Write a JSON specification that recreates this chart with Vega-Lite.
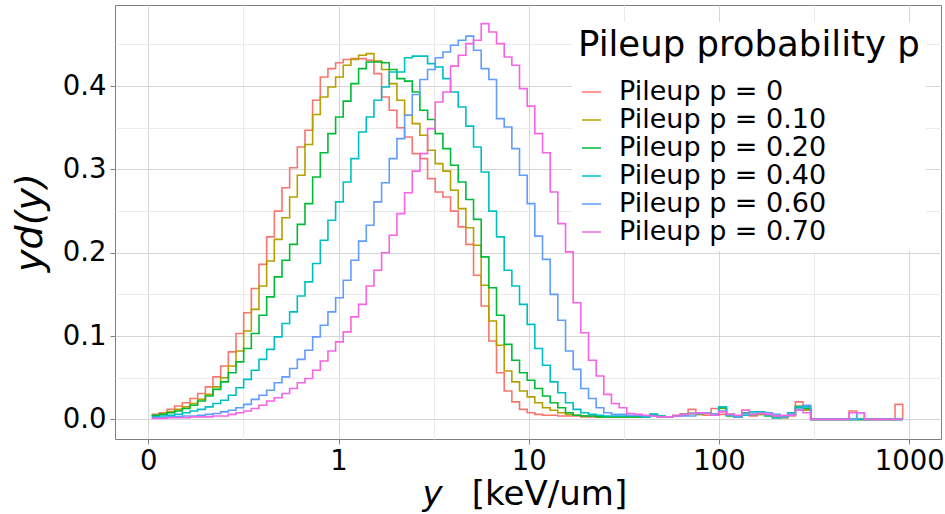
{
"$schema": "https://vega.github.io/schema/vega-lite/v6.json",
"width": 826, "height": 434,
"autosize": {"type": "none"},
"padding": {"left": 115, "top": 5, "right": 4, "bottom": 75},
"background": "white",
"config": {"font": "DejaVu Sans", "view": {"stroke": "#7f7f7f", "strokeWidth": 1}},
"data": {"values": [
{"p":"0","y":0.1041,"d":0.006},{"p":"0","y":0.1143,"d":0.008},{"p":"0","y":0.1254,"d":0.012},{"p":"0","y":0.1376,"d":0.016},{"p":"0","y":0.1510,"d":0.020},{"p":"0","y":0.1656,"d":0.025},{"p":"0","y":0.1817,"d":0.031},{"p":"0","y":0.1994,"d":0.039},{"p":"0","y":0.2187,"d":0.051},{"p":"0","y":0.2400,"d":0.064},
{"p":"0","y":0.2633,"d":0.081},{"p":"0","y":0.2889,"d":0.103},{"p":"0","y":0.3170,"d":0.128},{"p":"0","y":0.3478,"d":0.157},{"p":"0","y":0.3816,"d":0.186},{"p":"0","y":0.4187,"d":0.219},{"p":"0","y":0.4594,"d":0.250},{"p":"0","y":0.5040,"d":0.278},{"p":"0","y":0.5530,"d":0.302},{"p":"0","y":0.6067,"d":0.327},
{"p":"0","y":0.6657,"d":0.347},{"p":"0","y":0.7304,"d":0.383},{"p":"0","y":0.8014,"d":0.411},{"p":"0","y":0.8790,"d":0.421},{"p":"0","y":0.9645,"d":0.428},{"p":"0","y":1.058,"d":0.432},{"p":"0","y":1.161,"d":0.433},{"p":"0","y":1.274,"d":0.433},{"p":"0","y":1.398,"d":0.431},{"p":"0","y":1.534,"d":0.415},
{"p":"0","y":1.683,"d":0.387},{"p":"0","y":1.846,"d":0.371},{"p":"0","y":2.026,"d":0.350},{"p":"0","y":2.223,"d":0.339},{"p":"0","y":2.439,"d":0.319},{"p":"0","y":2.676,"d":0.313},{"p":"0","y":2.936,"d":0.289},{"p":"0","y":3.221,"d":0.273},{"p":"0","y":3.534,"d":0.267},{"p":"0","y":3.877,"d":0.250},
{"p":"0","y":4.254,"d":0.231},{"p":"0","y":4.667,"d":0.210},{"p":"0","y":5.121,"d":0.173},{"p":"0","y":5.618,"d":0.136},{"p":"0","y":6.164,"d":0.094},{"p":"0","y":6.763,"d":0.056},{"p":"0","y":7.421,"d":0.034},{"p":"0","y":8.142,"d":0.021},{"p":"0","y":8.933,"d":0.012},{"p":"0","y":9.802,"d":0.008},
{"p":"0","y":10.75,"d":0.006},{"p":"0","y":11.80,"d":0.005},{"p":"0","y":12.95,"d":0.005},{"p":"0","y":14.20,"d":0.004},{"p":"0","y":15.59,"d":0.004},{"p":"0","y":17.10,"d":0.004},{"p":"0","y":18.76,"d":0.003},{"p":"0","y":20.59,"d":0.003},{"p":"0","y":22.59,"d":0.003},{"p":"0","y":24.78,"d":0.003},
{"p":"0","y":27.19,"d":0.003},{"p":"0","y":29.83,"d":0.003},{"p":"0","y":32.73,"d":0.004},{"p":"0","y":35.91,"d":0.003},{"p":"0","y":39.40,"d":0.004},{"p":"0","y":43.23,"d":0.004},{"p":"0","y":47.43,"d":0.003},{"p":"0","y":52.04,"d":0.003},{"p":"0","y":57.10,"d":0.005},{"p":"0","y":62.65,"d":0.006},
{"p":"0","y":68.74,"d":0.012},{"p":"0","y":75.42,"d":0.006},{"p":"0","y":82.75,"d":0.005},{"p":"0","y":90.79,"d":0.013},{"p":"0","y":99.61,"d":0.006},{"p":"0","y":109.3,"d":0.005},{"p":"0","y":119.9,"d":0.003},{"p":"0","y":131.6,"d":0.011},{"p":"0","y":144.3,"d":0.004},{"p":"0","y":158.4,"d":0.006},
{"p":"0","y":173.8,"d":0.005},{"p":"0","y":190.7,"d":0.004},{"p":"0","y":209.2,"d":0.002},{"p":"0","y":229.5,"d":0.004},{"p":"0","y":251.8,"d":0.021},{"p":"0","y":276.3,"d":0.012},{"p":"0","y":303.2,"d":0},{"p":"0","y":332.7,"d":0},{"p":"0","y":365.0,"d":0},{"p":"0","y":400.5,"d":0},
{"p":"0","y":439.4,"d":0},{"p":"0","y":482.1,"d":0.010},{"p":"0","y":529.0,"d":0},{"p":"0","y":580.4,"d":0},{"p":"0","y":636.8,"d":0},{"p":"0","y":698.7,"d":0},{"p":"0","y":766.6,"d":0},{"p":"0","y":841.1,"d":0.018},{"p":"0","y":922.7,"d":0},

{"p":"0.10","y":0.1041,"d":0.005},{"p":"0.10","y":0.1143,"d":0.007},{"p":"0.10","y":0.1254,"d":0.009},{"p":"0.10","y":0.1376,"d":0.012},{"p":"0.10","y":0.1510,"d":0.015},{"p":"0.10","y":0.1656,"d":0.019},{"p":"0.10","y":0.1817,"d":0.024},{"p":"0.10","y":0.1994,"d":0.030},{"p":"0.10","y":0.2187,"d":0.039},{"p":"0.10","y":0.2400,"d":0.050},
{"p":"0.10","y":0.2633,"d":0.064},{"p":"0.10","y":0.2889,"d":0.082},{"p":"0.10","y":0.3170,"d":0.106},{"p":"0.10","y":0.3478,"d":0.132},{"p":"0.10","y":0.3816,"d":0.160},{"p":"0.10","y":0.4187,"d":0.190},{"p":"0.10","y":0.4594,"d":0.216},{"p":"0.10","y":0.5040,"d":0.242},{"p":"0.10","y":0.5530,"d":0.267},{"p":"0.10","y":0.6067,"d":0.293},
{"p":"0.10","y":0.6657,"d":0.330},{"p":"0.10","y":0.7304,"d":0.366},{"p":"0.10","y":0.8014,"d":0.387},{"p":"0.10","y":0.8790,"d":0.399},{"p":"0.10","y":0.9645,"d":0.411},{"p":"0.10","y":1.058,"d":0.425},{"p":"0.10","y":1.161,"d":0.432},{"p":"0.10","y":1.274,"d":0.437},{"p":"0.10","y":1.398,"d":0.439},{"p":"0.10","y":1.534,"d":0.430},
{"p":"0.10","y":1.683,"d":0.420},{"p":"0.10","y":1.846,"d":0.403},{"p":"0.10","y":2.026,"d":0.383},{"p":"0.10","y":2.223,"d":0.365},{"p":"0.10","y":2.439,"d":0.355},{"p":"0.10","y":2.676,"d":0.341},{"p":"0.10","y":2.936,"d":0.323},{"p":"0.10","y":3.221,"d":0.307},{"p":"0.10","y":3.534,"d":0.298},{"p":"0.10","y":3.877,"d":0.275},
{"p":"0.10","y":4.254,"d":0.253},{"p":"0.10","y":4.667,"d":0.230},{"p":"0.10","y":5.121,"d":0.209},{"p":"0.10","y":5.618,"d":0.161},{"p":"0.10","y":6.164,"d":0.118},{"p":"0.10","y":6.763,"d":0.089},{"p":"0.10","y":7.421,"d":0.058},{"p":"0.10","y":8.142,"d":0.045},{"p":"0.10","y":8.933,"d":0.034},{"p":"0.10","y":9.802,"d":0.027},
{"p":"0.10","y":10.75,"d":0.020},{"p":"0.10","y":11.80,"d":0.014},{"p":"0.10","y":12.95,"d":0.011},{"p":"0.10","y":14.20,"d":0.008},{"p":"0.10","y":15.59,"d":0.006},{"p":"0.10","y":17.10,"d":0.005},{"p":"0.10","y":18.76,"d":0.004},{"p":"0.10","y":20.59,"d":0.004},{"p":"0.10","y":22.59,"d":0.003},{"p":"0.10","y":24.78,"d":0.003},
{"p":"0.10","y":27.19,"d":0.003},{"p":"0.10","y":29.83,"d":0.003},{"p":"0.10","y":32.73,"d":0.003},{"p":"0.10","y":35.91,"d":0.003},{"p":"0.10","y":39.40,"d":0.003},{"p":"0.10","y":43.23,"d":0.004},{"p":"0.10","y":47.43,"d":0.003},{"p":"0.10","y":52.04,"d":0.003},{"p":"0.10","y":57.10,"d":0.004},{"p":"0.10","y":62.65,"d":0.006},
{"p":"0.10","y":68.74,"d":0.007},{"p":"0.10","y":75.42,"d":0.006},{"p":"0.10","y":82.75,"d":0.007},{"p":"0.10","y":90.79,"d":0.006},{"p":"0.10","y":99.61,"d":0.013},{"p":"0.10","y":109.3,"d":0.006},{"p":"0.10","y":119.9,"d":0.004},{"p":"0.10","y":131.6,"d":0.007},{"p":"0.10","y":144.3,"d":0.005},{"p":"0.10","y":158.4,"d":0.006},
{"p":"0.10","y":173.8,"d":0.006},{"p":"0.10","y":190.7,"d":0.003},{"p":"0.10","y":209.2,"d":0.002},{"p":"0.10","y":229.5,"d":0.005},{"p":"0.10","y":251.8,"d":0.016},{"p":"0.10","y":276.3,"d":0.011},{"p":"0.10","y":303.2,"d":0},{"p":"0.10","y":332.7,"d":0},{"p":"0.10","y":365.0,"d":0},{"p":"0.10","y":400.5,"d":0},
{"p":"0.10","y":439.4,"d":0},{"p":"0.10","y":482.1,"d":0},{"p":"0.10","y":529.0,"d":0},{"p":"0.10","y":580.4,"d":0},{"p":"0.10","y":636.8,"d":0},{"p":"0.10","y":698.7,"d":0},{"p":"0.10","y":766.6,"d":0},{"p":"0.10","y":841.1,"d":0},{"p":"0.10","y":922.7,"d":0},

{"p":"0.20","y":0.1041,"d":0.005},{"p":"0.20","y":0.1143,"d":0.006},{"p":"0.20","y":0.1254,"d":0.008},{"p":"0.20","y":0.1376,"d":0.010},{"p":"0.20","y":0.1510,"d":0.013},{"p":"0.20","y":0.1656,"d":0.017},{"p":"0.20","y":0.1817,"d":0.022},{"p":"0.20","y":0.1994,"d":0.028},{"p":"0.20","y":0.2187,"d":0.036},{"p":"0.20","y":0.2400,"d":0.045},
{"p":"0.20","y":0.2633,"d":0.056},{"p":"0.20","y":0.2889,"d":0.069},{"p":"0.20","y":0.3170,"d":0.085},{"p":"0.20","y":0.3478,"d":0.103},{"p":"0.20","y":0.3816,"d":0.125},{"p":"0.20","y":0.4187,"d":0.147},{"p":"0.20","y":0.4594,"d":0.171},{"p":"0.20","y":0.5040,"d":0.191},{"p":"0.20","y":0.5530,"d":0.210},{"p":"0.20","y":0.6067,"d":0.234},
{"p":"0.20","y":0.6657,"d":0.259},{"p":"0.20","y":0.7304,"d":0.291},{"p":"0.20","y":0.8014,"d":0.320},{"p":"0.20","y":0.8790,"d":0.343},{"p":"0.20","y":0.9645,"d":0.363},{"p":"0.20","y":1.058,"d":0.382},{"p":"0.20","y":1.161,"d":0.403},{"p":"0.20","y":1.274,"d":0.421},{"p":"0.20","y":1.398,"d":0.429},{"p":"0.20","y":1.534,"d":0.429},
{"p":"0.20","y":1.683,"d":0.428},{"p":"0.20","y":1.846,"d":0.420},{"p":"0.20","y":2.026,"d":0.409},{"p":"0.20","y":2.223,"d":0.406},{"p":"0.20","y":2.439,"d":0.393},{"p":"0.20","y":2.676,"d":0.371},{"p":"0.20","y":2.936,"d":0.360},{"p":"0.20","y":3.221,"d":0.343},{"p":"0.20","y":3.534,"d":0.325},{"p":"0.20","y":3.877,"d":0.305},
{"p":"0.20","y":4.254,"d":0.285},{"p":"0.20","y":4.667,"d":0.264},{"p":"0.20","y":5.121,"d":0.240},{"p":"0.20","y":5.618,"d":0.195},{"p":"0.20","y":6.164,"d":0.158},{"p":"0.20","y":6.763,"d":0.125},{"p":"0.20","y":7.421,"d":0.090},{"p":"0.20","y":8.142,"d":0.071},{"p":"0.20","y":8.933,"d":0.056},{"p":"0.20","y":9.802,"d":0.047},
{"p":"0.20","y":10.75,"d":0.037},{"p":"0.20","y":11.80,"d":0.028},{"p":"0.20","y":12.95,"d":0.020},{"p":"0.20","y":14.20,"d":0.014},{"p":"0.20","y":15.59,"d":0.008},{"p":"0.20","y":17.10,"d":0.005},{"p":"0.20","y":18.76,"d":0.004},{"p":"0.20","y":20.59,"d":0.004},{"p":"0.20","y":22.59,"d":0.003},{"p":"0.20","y":24.78,"d":0.003},
{"p":"0.20","y":27.19,"d":0.003},{"p":"0.20","y":29.83,"d":0.003},{"p":"0.20","y":32.73,"d":0.003},{"p":"0.20","y":35.91,"d":0.003},{"p":"0.20","y":39.40,"d":0.003},{"p":"0.20","y":43.23,"d":0.006},{"p":"0.20","y":47.43,"d":0.004},{"p":"0.20","y":52.04,"d":0.003},{"p":"0.20","y":57.10,"d":0.004},{"p":"0.20","y":62.65,"d":0.006},
{"p":"0.20","y":68.74,"d":0.007},{"p":"0.20","y":75.42,"d":0.007},{"p":"0.20","y":82.75,"d":0.008},{"p":"0.20","y":90.79,"d":0.006},{"p":"0.20","y":99.61,"d":0.014},{"p":"0.20","y":109.3,"d":0.004},{"p":"0.20","y":119.9,"d":0.003},{"p":"0.20","y":131.6,"d":0.008},{"p":"0.20","y":144.3,"d":0.006},{"p":"0.20","y":158.4,"d":0.007},
{"p":"0.20","y":173.8,"d":0.004},{"p":"0.20","y":190.7,"d":0.002},{"p":"0.20","y":209.2,"d":0.003},{"p":"0.20","y":229.5,"d":0.006},{"p":"0.20","y":251.8,"d":0.014},{"p":"0.20","y":276.3,"d":0.013},{"p":"0.20","y":303.2,"d":0},{"p":"0.20","y":332.7,"d":0},{"p":"0.20","y":365.0,"d":0},{"p":"0.20","y":400.5,"d":0},
{"p":"0.20","y":439.4,"d":0},{"p":"0.20","y":482.1,"d":0},{"p":"0.20","y":529.0,"d":0},{"p":"0.20","y":580.4,"d":0},{"p":"0.20","y":636.8,"d":0},{"p":"0.20","y":698.7,"d":0},{"p":"0.20","y":766.6,"d":0},{"p":"0.20","y":841.1,"d":0},{"p":"0.20","y":922.7,"d":0},

{"p":"0.40","y":0.1041,"d":0.003},{"p":"0.40","y":0.1143,"d":0.004},{"p":"0.40","y":0.1254,"d":0.005},{"p":"0.40","y":0.1376,"d":0.006},{"p":"0.40","y":0.1510,"d":0.008},{"p":"0.40","y":0.1656,"d":0.010},{"p":"0.40","y":0.1817,"d":0.012},{"p":"0.40","y":0.1994,"d":0.015},{"p":"0.40","y":0.2187,"d":0.019},{"p":"0.40","y":0.2400,"d":0.023},
{"p":"0.40","y":0.2633,"d":0.029},{"p":"0.40","y":0.2889,"d":0.038},{"p":"0.40","y":0.3170,"d":0.048},{"p":"0.40","y":0.3478,"d":0.059},{"p":"0.40","y":0.3816,"d":0.072},{"p":"0.40","y":0.4187,"d":0.084},{"p":"0.40","y":0.4594,"d":0.099},{"p":"0.40","y":0.5040,"d":0.115},{"p":"0.40","y":0.5530,"d":0.129},{"p":"0.40","y":0.6067,"d":0.148},
{"p":"0.40","y":0.6657,"d":0.165},{"p":"0.40","y":0.7304,"d":0.187},{"p":"0.40","y":0.8014,"d":0.215},{"p":"0.40","y":0.8790,"d":0.239},{"p":"0.40","y":0.9645,"d":0.261},{"p":"0.40","y":1.058,"d":0.285},{"p":"0.40","y":1.161,"d":0.313},{"p":"0.40","y":1.274,"d":0.345},{"p":"0.40","y":1.398,"d":0.363},{"p":"0.40","y":1.534,"d":0.383},
{"p":"0.40","y":1.683,"d":0.399},{"p":"0.40","y":1.846,"d":0.417},{"p":"0.40","y":2.026,"d":0.417},{"p":"0.40","y":2.223,"d":0.434},{"p":"0.40","y":2.439,"d":0.436},{"p":"0.40","y":2.676,"d":0.436},{"p":"0.40","y":2.936,"d":0.427},{"p":"0.40","y":3.221,"d":0.423},{"p":"0.40","y":3.534,"d":0.409},{"p":"0.40","y":3.877,"d":0.393},
{"p":"0.40","y":4.254,"d":0.375},{"p":"0.40","y":4.667,"d":0.352},{"p":"0.40","y":5.121,"d":0.327},{"p":"0.40","y":5.618,"d":0.297},{"p":"0.40","y":6.164,"d":0.250},{"p":"0.40","y":6.763,"d":0.219},{"p":"0.40","y":7.421,"d":0.179},{"p":"0.40","y":8.142,"d":0.160},{"p":"0.40","y":8.933,"d":0.138},{"p":"0.40","y":9.802,"d":0.114},
{"p":"0.40","y":10.75,"d":0.085},{"p":"0.40","y":11.80,"d":0.065},{"p":"0.40","y":12.95,"d":0.045},{"p":"0.40","y":14.20,"d":0.032},{"p":"0.40","y":15.59,"d":0.020},{"p":"0.40","y":17.10,"d":0.012},{"p":"0.40","y":18.76,"d":0.008},{"p":"0.40","y":20.59,"d":0.006},{"p":"0.40","y":22.59,"d":0.005},{"p":"0.40","y":24.78,"d":0.004},
{"p":"0.40","y":27.19,"d":0.004},{"p":"0.40","y":29.83,"d":0.004},{"p":"0.40","y":32.73,"d":0.004},{"p":"0.40","y":35.91,"d":0.004},{"p":"0.40","y":39.40,"d":0.003},{"p":"0.40","y":43.23,"d":0.006},{"p":"0.40","y":47.43,"d":0.004},{"p":"0.40","y":52.04,"d":0.003},{"p":"0.40","y":57.10,"d":0.004},{"p":"0.40","y":62.65,"d":0.005},
{"p":"0.40","y":68.74,"d":0.007},{"p":"0.40","y":75.42,"d":0.008},{"p":"0.40","y":82.75,"d":0.008},{"p":"0.40","y":90.79,"d":0.005},{"p":"0.40","y":99.61,"d":0.015},{"p":"0.40","y":109.3,"d":0.005},{"p":"0.40","y":119.9,"d":0.004},{"p":"0.40","y":131.6,"d":0.005},{"p":"0.40","y":144.3,"d":0.009},{"p":"0.40","y":158.4,"d":0.009},
{"p":"0.40","y":173.8,"d":0.005},{"p":"0.40","y":190.7,"d":0.002},{"p":"0.40","y":209.2,"d":0.004},{"p":"0.40","y":229.5,"d":0.008},{"p":"0.40","y":251.8,"d":0.015},{"p":"0.40","y":276.3,"d":0.015},{"p":"0.40","y":303.2,"d":0},{"p":"0.40","y":332.7,"d":0},{"p":"0.40","y":365.0,"d":0},{"p":"0.40","y":400.5,"d":0},
{"p":"0.40","y":439.4,"d":0},{"p":"0.40","y":482.1,"d":0},{"p":"0.40","y":529.0,"d":0},{"p":"0.40","y":580.4,"d":0},{"p":"0.40","y":636.8,"d":0},{"p":"0.40","y":698.7,"d":0},{"p":"0.40","y":766.6,"d":0},{"p":"0.40","y":841.1,"d":0},{"p":"0.40","y":922.7,"d":0},

{"p":"0.60","y":0.1041,"d":0.002},{"p":"0.60","y":0.1143,"d":0.002},{"p":"0.60","y":0.1254,"d":0.003},{"p":"0.60","y":0.1376,"d":0.003},{"p":"0.60","y":0.1510,"d":0.004},{"p":"0.60","y":0.1656,"d":0.004},{"p":"0.60","y":0.1817,"d":0.005},{"p":"0.60","y":0.1994,"d":0.006},{"p":"0.60","y":0.2187,"d":0.007},{"p":"0.60","y":0.2400,"d":0.009},
{"p":"0.60","y":0.2633,"d":0.011},{"p":"0.60","y":0.2889,"d":0.014},{"p":"0.60","y":0.3170,"d":0.018},{"p":"0.60","y":0.3478,"d":0.024},{"p":"0.60","y":0.3816,"d":0.029},{"p":"0.60","y":0.4187,"d":0.035},{"p":"0.60","y":0.4594,"d":0.044},{"p":"0.60","y":0.5040,"d":0.051},{"p":"0.60","y":0.5530,"d":0.061},{"p":"0.60","y":0.6067,"d":0.072},
{"p":"0.60","y":0.6657,"d":0.083},{"p":"0.60","y":0.7304,"d":0.099},{"p":"0.60","y":0.8014,"d":0.113},{"p":"0.60","y":0.8790,"d":0.129},{"p":"0.60","y":0.9645,"d":0.146},{"p":"0.60","y":1.058,"d":0.167},{"p":"0.60","y":1.161,"d":0.191},{"p":"0.60","y":1.274,"d":0.214},{"p":"0.60","y":1.398,"d":0.233},{"p":"0.60","y":1.534,"d":0.261},
{"p":"0.60","y":1.683,"d":0.284},{"p":"0.60","y":1.846,"d":0.313},{"p":"0.60","y":2.026,"d":0.337},{"p":"0.60","y":2.223,"d":0.365},{"p":"0.60","y":2.439,"d":0.390},{"p":"0.60","y":2.676,"d":0.408},{"p":"0.60","y":2.936,"d":0.420},{"p":"0.60","y":3.221,"d":0.434},{"p":"0.60","y":3.534,"d":0.441},{"p":"0.60","y":3.877,"d":0.449},
{"p":"0.60","y":4.254,"d":0.455},{"p":"0.60","y":4.667,"d":0.460},{"p":"0.60","y":5.121,"d":0.443},{"p":"0.60","y":5.618,"d":0.421},{"p":"0.60","y":6.164,"d":0.408},{"p":"0.60","y":6.763,"d":0.361},{"p":"0.60","y":7.421,"d":0.351},{"p":"0.60","y":8.142,"d":0.325},{"p":"0.60","y":8.933,"d":0.293},{"p":"0.60","y":9.802,"d":0.259},
{"p":"0.60","y":10.75,"d":0.220},{"p":"0.60","y":11.80,"d":0.192},{"p":"0.60","y":12.95,"d":0.150},{"p":"0.60","y":14.20,"d":0.119},{"p":"0.60","y":15.59,"d":0.082},{"p":"0.60","y":17.10,"d":0.060},{"p":"0.60","y":18.76,"d":0.037},{"p":"0.60","y":20.59,"d":0.025},{"p":"0.60","y":22.59,"d":0.014},{"p":"0.60","y":24.78,"d":0.008},
{"p":"0.60","y":27.19,"d":0.006},{"p":"0.60","y":29.83,"d":0.006},{"p":"0.60","y":32.73,"d":0.005},{"p":"0.60","y":35.91,"d":0.005},{"p":"0.60","y":39.40,"d":0.004},{"p":"0.60","y":43.23,"d":0.004},{"p":"0.60","y":47.43,"d":0.003},{"p":"0.60","y":52.04,"d":0.003},{"p":"0.60","y":57.10,"d":0.004},{"p":"0.60","y":62.65,"d":0.004},
{"p":"0.60","y":68.74,"d":0.004},{"p":"0.60","y":75.42,"d":0.007},{"p":"0.60","y":82.75,"d":0.008},{"p":"0.60","y":90.79,"d":0.006},{"p":"0.60","y":99.61,"d":0.010},{"p":"0.60","y":109.3,"d":0.006},{"p":"0.60","y":119.9,"d":0.003},{"p":"0.60","y":131.6,"d":0.007},{"p":"0.60","y":144.3,"d":0.006},{"p":"0.60","y":158.4,"d":0.008},
{"p":"0.60","y":173.8,"d":0.008},{"p":"0.60","y":190.7,"d":0.006},{"p":"0.60","y":209.2,"d":0.003},{"p":"0.60","y":229.5,"d":0.006},{"p":"0.60","y":251.8,"d":0.012},{"p":"0.60","y":276.3,"d":0.017},{"p":"0.60","y":303.2,"d":0},{"p":"0.60","y":332.7,"d":0},{"p":"0.60","y":365.0,"d":0},{"p":"0.60","y":400.5,"d":0},
{"p":"0.60","y":439.4,"d":0},{"p":"0.60","y":482.1,"d":0},{"p":"0.60","y":529.0,"d":0.008},{"p":"0.60","y":580.4,"d":0},{"p":"0.60","y":636.8,"d":0},{"p":"0.60","y":698.7,"d":0},{"p":"0.60","y":766.6,"d":0},{"p":"0.60","y":841.1,"d":0},{"p":"0.60","y":922.7,"d":0},

{"p":"0.70","y":0.1041,"d":0.001},{"p":"0.70","y":0.1143,"d":0.001},{"p":"0.70","y":0.1254,"d":0.002},{"p":"0.70","y":0.1376,"d":0.002},{"p":"0.70","y":0.1510,"d":0.002},{"p":"0.70","y":0.1656,"d":0.003},{"p":"0.70","y":0.1817,"d":0.003},{"p":"0.70","y":0.1994,"d":0.003},{"p":"0.70","y":0.2187,"d":0.004},{"p":"0.70","y":0.2400,"d":0.004},
{"p":"0.70","y":0.2633,"d":0.006},{"p":"0.70","y":0.2889,"d":0.008},{"p":"0.70","y":0.3170,"d":0.010},{"p":"0.70","y":0.3478,"d":0.013},{"p":"0.70","y":0.3816,"d":0.017},{"p":"0.70","y":0.4187,"d":0.022},{"p":"0.70","y":0.4594,"d":0.026},{"p":"0.70","y":0.5040,"d":0.031},{"p":"0.70","y":0.5530,"d":0.037},{"p":"0.70","y":0.6067,"d":0.044},
{"p":"0.70","y":0.6657,"d":0.049},{"p":"0.70","y":0.7304,"d":0.059},{"p":"0.70","y":0.8014,"d":0.070},{"p":"0.70","y":0.8790,"d":0.082},{"p":"0.70","y":0.9645,"d":0.093},{"p":"0.70","y":1.058,"d":0.105},{"p":"0.70","y":1.161,"d":0.123},{"p":"0.70","y":1.274,"d":0.138},{"p":"0.70","y":1.398,"d":0.160},{"p":"0.70","y":1.534,"d":0.179},
{"p":"0.70","y":1.683,"d":0.200},{"p":"0.70","y":1.846,"d":0.221},{"p":"0.70","y":2.026,"d":0.247},{"p":"0.70","y":2.223,"d":0.272},{"p":"0.70","y":2.439,"d":0.298},{"p":"0.70","y":2.676,"d":0.319},{"p":"0.70","y":2.936,"d":0.349},{"p":"0.70","y":3.221,"d":0.381},{"p":"0.70","y":3.534,"d":0.393},{"p":"0.70","y":3.877,"d":0.424},
{"p":"0.70","y":4.254,"d":0.437},{"p":"0.70","y":4.667,"d":0.451},{"p":"0.70","y":5.121,"d":0.455},{"p":"0.70","y":5.618,"d":0.475},{"p":"0.70","y":6.164,"d":0.465},{"p":"0.70","y":6.763,"d":0.451},{"p":"0.70","y":7.421,"d":0.435},{"p":"0.70","y":8.142,"d":0.425},{"p":"0.70","y":8.933,"d":0.397},{"p":"0.70","y":9.802,"d":0.376},
{"p":"0.70","y":10.75,"d":0.343},{"p":"0.70","y":11.80,"d":0.320},{"p":"0.70","y":12.95,"d":0.273},{"p":"0.70","y":14.20,"d":0.235},{"p":"0.70","y":15.59,"d":0.201},{"p":"0.70","y":17.10,"d":0.140},{"p":"0.70","y":18.76,"d":0.104},{"p":"0.70","y":20.59,"d":0.071},{"p":"0.70","y":22.59,"d":0.052},{"p":"0.70","y":24.78,"d":0.030},
{"p":"0.70","y":27.19,"d":0.019},{"p":"0.70","y":29.83,"d":0.014},{"p":"0.70","y":32.73,"d":0.007},{"p":"0.70","y":35.91,"d":0.006},{"p":"0.70","y":39.40,"d":0.005},{"p":"0.70","y":43.23,"d":0.004},{"p":"0.70","y":47.43,"d":0.003},{"p":"0.70","y":52.04,"d":0.003},{"p":"0.70","y":57.10,"d":0.004},{"p":"0.70","y":62.65,"d":0.006},
{"p":"0.70","y":68.74,"d":0.007},{"p":"0.70","y":75.42,"d":0.008},{"p":"0.70","y":82.75,"d":0.007},{"p":"0.70","y":90.79,"d":0.005},{"p":"0.70","y":99.61,"d":0.009},{"p":"0.70","y":109.3,"d":0.006},{"p":"0.70","y":119.9,"d":0.005},{"p":"0.70","y":131.6,"d":0.011},{"p":"0.70","y":144.3,"d":0.006},{"p":"0.70","y":158.4,"d":0.007},
{"p":"0.70","y":173.8,"d":0.006},{"p":"0.70","y":190.7,"d":0.004},{"p":"0.70","y":209.2,"d":0.005},{"p":"0.70","y":229.5,"d":0.005},{"p":"0.70","y":251.8,"d":0.011},{"p":"0.70","y":276.3,"d":0.008},{"p":"0.70","y":303.2,"d":0},{"p":"0.70","y":332.7,"d":0},{"p":"0.70","y":365.0,"d":0},{"p":"0.70","y":400.5,"d":0},
{"p":"0.70","y":439.4,"d":0},{"p":"0.70","y":482.1,"d":0.008},{"p":"0.70","y":529.0,"d":0.008},{"p":"0.70","y":580.4,"d":0},{"p":"0.70","y":636.8,"d":0},{"p":"0.70","y":698.7,"d":0},{"p":"0.70","y":766.6,"d":0},{"p":"0.70","y":841.1,"d":0},{"p":"0.70","y":922.7,"d":0}
]},
"layer": [
{
"mark": {"type": "point", "opacity": 0, "size": 0},
"encoding": {
"x": {"field": "y", "type": "quantitative", "scale": {"type": "log", "domain": [0.06679, 1467], "nice": false, "zero": false},
 "axis": {"orient": "bottom", "values": [0.3162, 3.162, 31.62, 316.2], "grid": true, "gridColor": "#ebebeb", "gridWidth": 1, "labels": false, "ticks": false, "domain": false,
  "title": "y", "titleFontStyle": "italic", "titleFontWeight": "normal", "titleFontSize": 34, "titleColor": "#000", "titleX": 317, "titleY": 65, "titleBaseline": "alphabetic", "titleAlign": "center", "titleAnchor": null}},
"y": {"field": "d", "type": "quantitative", "scale": {"domain": [-0.0236, 0.4974], "nice": false, "zero": false},
 "axis": {"orient": "left", "values": [0.05, 0.15, 0.25, 0.35, 0.45], "grid": true, "gridColor": "#ebebeb", "gridWidth": 1, "labels": false, "ticks": false, "domain": false, "title": null}}
}
},
{
"mark": {"type": "line", "interpolate": "step-after", "strokeWidth": 1.6},
"encoding": {
"x": {"field": "y", "type": "quantitative",
 "axis": {"orient": "bottom", "values": [0.1, 1, 10, 100, 1000], "labelExpr": "datum.value < 0.5 ? '0' : format(datum.value, 'd')", "grid": true, "gridColor": "#d6d6d6", "gridWidth": 1, "domain": false, "ticks": true, "tickColor": "#7f7f7f", "tickSize": 5, "labelFontSize": 27.5, "labelColor": "#000", "labelPadding": 3, "labelFlush": false, "labelOverlap": false,
  "title": "[keV/um]", "titleFontWeight": "normal", "titleFontSize": 34, "titleColor": "#000", "titleX": 434, "titleY": 65, "titleBaseline": "alphabetic", "titleAlign": "center", "titleAnchor": null}},
"y": {"field": "d", "type": "quantitative",
 "axis": {"orient": "left", "values": [0, 0.1, 0.2, 0.3, 0.4], "format": ".1f", "grid": true, "gridColor": "#d6d6d6", "gridWidth": 1, "domain": false, "ticks": true, "tickColor": "#7f7f7f", "tickSize": 5, "labelFontSize": 27.5, "labelColor": "#000", "labelPadding": 4, "labelFlush": false, "labelOverlap": false,
  "title": "yd(y)", "titleFontStyle": "italic", "titleFontWeight": "normal", "titleFontSize": 38, "titleColor": "#000", "titleAngle": -90, "titleX": -74, "titleY": 217, "titleBaseline": "alphabetic", "titleAlign": "center", "titleAnchor": null}},
"color": {"field": "p", "type": "nominal",
 "scale": {"domain": ["0", "0.10", "0.20", "0.40", "0.60", "0.70"], "range": ["#F8766D", "#B79F00", "#00BA38", "#00BFC4", "#619CFF", "#F564E3"]},
 "legend": {"orient": "none", "legendX": 457, "legendY": 17, "fillColor": "white", "padding": 6, "title": "Pileup probability p", "titleLimit": 500, "titleFontSize": 35.5, "titleFontWeight": "normal", "titleColor": "#000", "titlePadding": 15, "labelFontSize": 27, "labelColor": "#000", "symbolType": "stroke", "symbolSize": 361, "symbolStrokeWidth": 1.5, "labelOffset": 14, "rowPadding": 0, "labelLimit": 0, "labelExpr": "'Pileup p = ' + datum.label"}}
}
}
],
"resolve": {"axis": {"x": "independent", "y": "independent"}}
}
